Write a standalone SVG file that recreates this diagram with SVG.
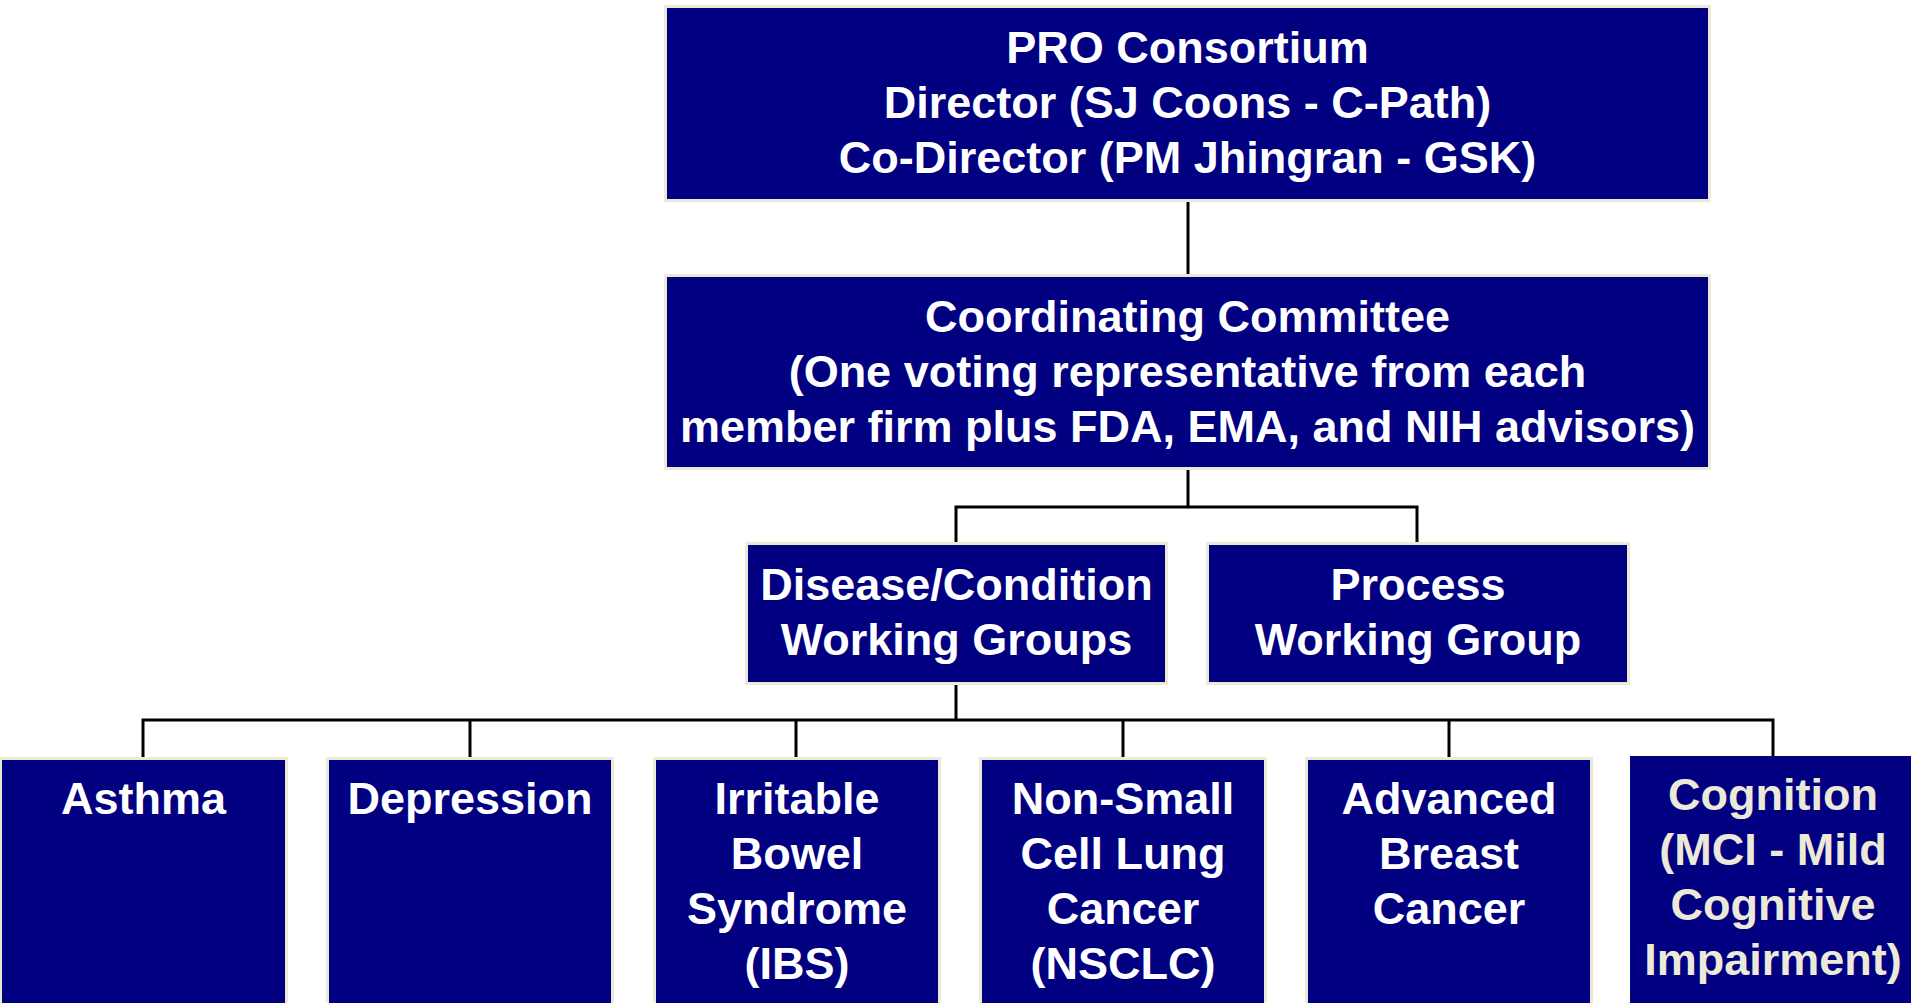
<svg xmlns="http://www.w3.org/2000/svg" width="1911" height="1003" viewBox="0 0 1911 1003">
<style>
.box{fill:#000080;stroke:#ECE9D8;stroke-width:3}
.box2{fill:#000080}
text{font-family:"Liberation Sans",Arial,sans-serif;font-weight:bold;font-size:45px;fill:#FFFFFF;text-anchor:middle}
.cream{fill:#ECE9D8}
.conn{stroke:#000000;stroke-width:3;fill:none}
</style>
<rect width="1911" height="1003" fill="#FFFFFF"/>
<g id="connectors">
<path class="conn" d="M1188,202 V274"/>
<path class="conn" d="M1188,470 V507 M956,542 V507 H1417 V542"/>
<path class="conn" d="M956,685 V720 M143,757 V720 H1773 V756 M470,720 V757 M796,720 V757 M1123,720 V757 M1449,720 V757"/>
</g>
<g id="pro-consortium">
<rect class="box" x="665.5" y="6.5" width="1044" height="194"/>
<text x="1187.5" y="63">PRO Consortium</text>
<text x="1187.5" y="118">Director (SJ Coons - C-Path)</text>
<text x="1187.5" y="173">Co-Director (PM Jhingran - GSK)</text>
</g>
<g id="coordinating-committee">
<rect class="box" x="665.5" y="275.5" width="1044" height="193"/>
<text x="1187.5" y="332">Coordinating Committee</text>
<text x="1187.5" y="387">(One voting representative from each</text>
<text x="1187.5" y="442">member firm plus FDA, EMA, and NIH advisors)</text>
</g>
<g id="disease-wg">
<rect class="box" x="746.5" y="543.5" width="420" height="140"/>
<text x="956.5" y="600">Disease/Condition</text>
<text x="956.5" y="655">Working Groups</text>
</g>
<g id="process-wg">
<rect class="box" x="1207.5" y="543.5" width="421" height="140"/>
<text x="1418" y="600">Process</text>
<text x="1418" y="655">Working Group</text>
</g>
<g id="asthma">
<rect class="box" x="0.5" y="758.5" width="286" height="260"/>
<text x="143.5" y="814">Asthma</text>
</g>
<g id="depression">
<rect class="box" x="327.5" y="758.5" width="285" height="260"/>
<text x="470" y="814">Depression</text>
</g>
<g id="ibs">
<rect class="box" x="654.5" y="758.5" width="285" height="260"/>
<text x="797" y="814">Irritable</text>
<text x="797" y="869">Bowel</text>
<text x="797" y="924">Syndrome</text>
<text x="797" y="979">(IBS)</text>
</g>
<g id="nsclc">
<rect class="box" x="980.5" y="758.5" width="285" height="260"/>
<text x="1123" y="814">Non-Small</text>
<text x="1123" y="869">Cell Lung</text>
<text x="1123" y="924">Cancer</text>
<text x="1123" y="979">(NSCLC)</text>
</g>
<g id="breast-cancer">
<rect class="box" x="1306.5" y="758.5" width="285" height="260"/>
<text x="1449" y="814">Advanced</text>
<text x="1449" y="869">Breast</text>
<text x="1449" y="924">Cancer</text>
</g>
<g id="cognition">
<rect class="box2" x="1630" y="756" width="300" height="260"/>
<text class="cream" x="1773" y="810">Cognition</text>
<text class="cream" x="1773" y="865">(MCI - Mild</text>
<text class="cream" x="1773" y="920">Cognitive</text>
<text class="cream" x="1773" y="975">Impairment)</text>
</g>
</svg>
